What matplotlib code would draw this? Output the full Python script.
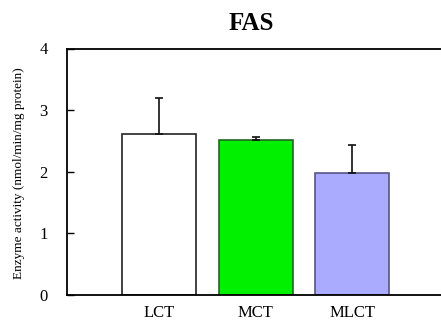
import matplotlib
matplotlib.use("Agg")
import matplotlib.pyplot as plt

categories = ["LCT", "MCT", "MLCT"]
values = [2.62, 2.52, 1.98]
errors = [0.57, 0.05, 0.45]
fill_colors = ["#ffffff", "#00f000", "#aaaaff"]
edge_colors = ["#222222", "#226622", "#555588"]
y_ticks = [0, 1, 2, 3, 4]

plt.rcParams["font.family"] = ["Liberation Serif", "DejaVu Serif"]

fig = plt.figure(figsize=(4.41, 3.23), dpi=100)
# axes spans past the right edge so no right spine is visible
ax = fig.add_axes([67 / 441, 1 - 295 / 323, 1.02 - 67 / 441, (295 - 48.5) / 323])

x = [0, 1, 2]
ax.bar(x, values, width=0.767, color=fill_colors, edgecolor=edge_colors,
       linewidth=1.2, zorder=2)
ax.errorbar(x, values, yerr=[[0, 0, 0], errors], fmt="none", ecolor="#111111",
            elinewidth=1.2, capsize=3, capthick=1.2, zorder=3)

ax.set_xlim(-0.955, 3.01)
ax.set_ylim(0, 4)
ax.set_yticks(y_ticks)
ax.set_yticklabels([str(t) for t in y_ticks], fontsize=12)
ax.tick_params(axis="y", direction="in", length=5, width=1, pad=14)
ax.set_xticks(x)
ax.set_xticklabels(categories, fontsize=12)
ax.tick_params(axis="x", length=0, pad=7)

for side in ["left", "bottom", "top"]:
    ax.spines[side].set_linewidth(1.3)
ax.spines["right"].set_visible(False)

fig.text(19.5 / 441, 1 - 173 / 323, "Enzyme activity (nmol/min/mg protein)",
         rotation=90, ha="center", va="center", fontsize=9.5)
fig.text(251 / 441, 1 - 23 / 323, "FAS", ha="center", va="center",
         fontsize=18, fontweight="bold")

fig.savefig("out.png", dpi=100)
